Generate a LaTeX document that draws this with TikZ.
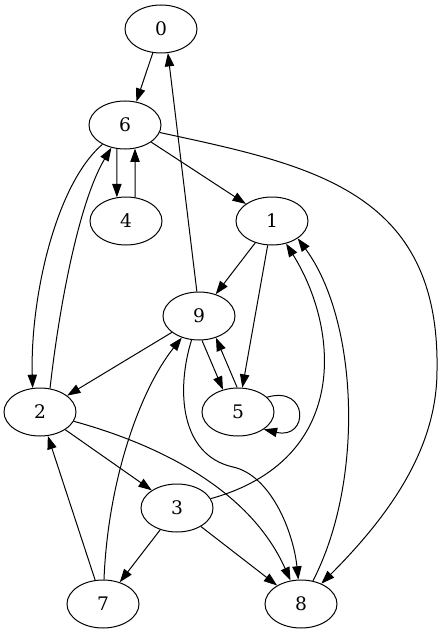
\documentclass[tikz,border=0pt]{standalone}
\usepackage{fontspec}
\setmainfont{DejaVu Serif}
\usetikzlibrary{arrows.meta,shapes.geometric}
\begin{document}
\begin{tikzpicture}[x=0.75pt,y=-0.75pt,
  vtx/.style={draw, ellipse, minimum width=54pt, minimum height=36pt, inner sep=0pt, line width=0.75pt, font=\fontsize{14}{16}\selectfont},
  edge/.style={-{Triangle[length=10pt,width=7pt]}, line width=0.75pt}]
\useasboundingbox (0,0) rectangle (443,635);
\node[vtx] (n0) at (161,29) {0};
\node[vtx] (n6) at (125,125) {6};
\node[vtx] (n4) at (126,221) {4};
\node[vtx] (n1) at (272,221) {1};
\node[vtx] (n9) at (199,316) {9};
\node[vtx] (n2) at (40,412) {2};
\node[vtx] (n5) at (238,412) {5};
\node[vtx] (n3) at (177,508) {3};
\node[vtx] (n7) at (103,604) {7};
\node[vtx] (n8) at (301,604) {8};
\draw[edge] (n0.-109) -- (n6.64);
\draw[edge] (n6.-109) -- (n4.111);
\draw[edge] (n4.69) -- (n6.-67);
\draw[edge] (n6) -- (n1);
\draw[edge] (n6) .. controls (55,185) and (30,300) .. (n2.107);
\draw[edge] (n2.67) .. controls (60,300) and (80,200) .. (n6);
\draw[edge] (n6) .. controls (310,165) and (440,190) .. (437,370) .. controls (437,440) and (400,505) .. (n8);
\draw[edge] (n1) -- (n9);
\draw[edge] (n1) -- (n5);
\draw[edge] (n9.95) -- (n0.-74);
\draw[edge] (n9) -- (n2);
\draw[edge] (n9.-83) -- (n5.124);
\draw[edge] (n5.92) -- (n9.-52);
\draw[edge] (n5.27) .. controls (309,385) and (309,440) .. (n5.-34);
\draw[edge] (n9) .. controls (176,390) and (180,455) .. (233,467) .. controls (270,475) and (293,530) .. (n8);
\draw[edge] (n2) -- (n3);
\draw[edge] (n2) .. controls (160,445) and (250,490) .. (n8);
\draw[edge] (n3) -- (n7);
\draw[edge] (n3) -- (n8);
\draw[edge] (n3) .. controls (350,460) and (340,330) .. (n1);
\draw[edge] (n7) -- (n2);
\draw[edge] (n7) .. controls (108,480) and (140,390) .. (n9);
\draw[edge] (n8) .. controls (365,480) and (358,320) .. (n1.-34);
\end{tikzpicture}
\end{document}
